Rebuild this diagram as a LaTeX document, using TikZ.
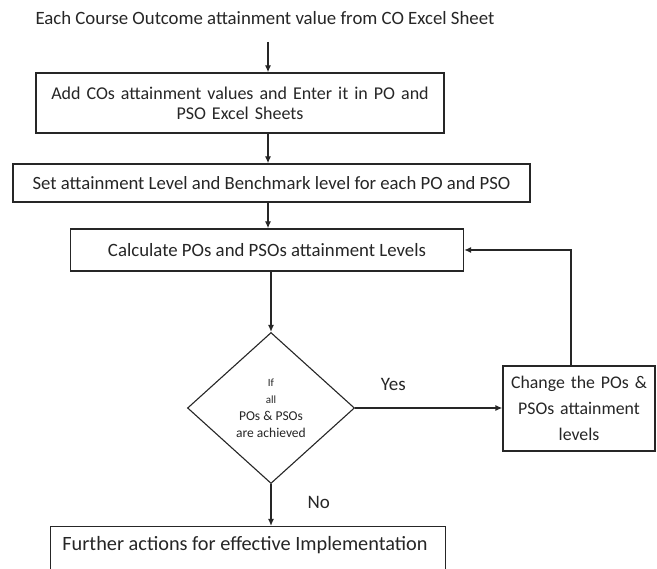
\documentclass[tikz,border=0pt]{standalone}
\usepackage{fontspec}
\setmainfont{Carlito}
\usetikzlibrary{shapes.geometric,arrows.meta}
\definecolor{ink}{HTML}{262626}
\tikzset{
  stepbox/.style={draw=ink, line width=1.3pt, rectangle, inner sep=0pt, align=center,
    text=ink, font=\fontsize{17.6}{20}\selectfont},
  decision/.style={draw=ink, line width=1.1pt, diamond, inner sep=0pt, align=center,
    text=ink, minimum width=167pt, minimum height=151pt, font=\fontsize{13.5}{17}\selectfont},
  flow/.style={draw=ink, line width=1.3pt, -{Latex[length=7pt,width=6pt]}},
  tag/.style={text=ink, font=\fontsize{19}{20}\selectfont, inner sep=0pt}
}
\begin{document}
\begin{tikzpicture}[x=1pt,y=-1pt]
  \useasboundingbox[fill=white] (0,0) rectangle (657,569);

  % process steps
  \node[tag, font=\fontsize{18.8}{20}\selectfont] (src) at (265,18)
    {Each Course Outcome attainment value from CO Excel Sheet};
  \node[stepbox, minimum width=408pt, minimum height=60pt, text width=400pt,
        font=\fontsize{18}{20}\selectfont] (add) at (240,103)
    {Add COs attainment values and Enter it in PO and\\PSO Excel Sheets};
  \node[stepbox, minimum width=517pt, minimum height=38pt,
        font=\fontsize{18.7}{20}\selectfont] (set) at (271.5,183)
    {Set attainment Level and Benchmark level for each PO and PSO};
  \node[stepbox, minimum width=393pt, minimum height=42pt,
        font=\fontsize{18.8}{20}\selectfont] (calc) at (267,250)
    {Calculate POs and PSOs attainment Levels};
  \node[decision] (check) at (271,408)
    {{\fontsize{11}{17}\selectfont If}\\{\fontsize{11}{17}\selectfont all}\\POs \& PSOs\\are achieved};
  \node[stepbox, minimum width=152pt, minimum height=85pt, text width=150pt,
        font=\fontsize{17.8}{26}\selectfont] (change) at (579,408.5)
    {Change the POs \&\\PSOs attainment\\levels};
  \node[stepbox, minimum width=395pt, minimum height=50pt, anchor=north west] (further) at (50,526)
    {};
  \node[tag, font=\fontsize{20.3}{22}\selectfont] (furthertxt) at (245,545)
    {Further actions for effective Implementation};

  % connectors
  \coordinate (spine) at (268,0);
  \coordinate (loopx) at (571,0);
  \coordinate (srcfoot) at (268,42);
  \draw[flow] (srcfoot) -- (add.north -| spine);
  \draw[flow] (add.south -| spine) -- (set.north -| spine);
  \draw[flow] (set.south -| spine) -- (calc.north -| spine);
  \draw[flow] (calc.south -| check.north) -- (check.north);
  \draw[flow] (check.east) -- (check.east -| change.west)
    node[tag, pos=0.26, above=17pt] (yes) {Yes};
  \draw[flow] (change.north -| loopx) |- (calc.east);
  \draw[flow] (check.south) -- (further.north -| check.south)
    node[tag, pos=0.45, right=36pt] (no) {No};
\end{tikzpicture}
\end{document}
